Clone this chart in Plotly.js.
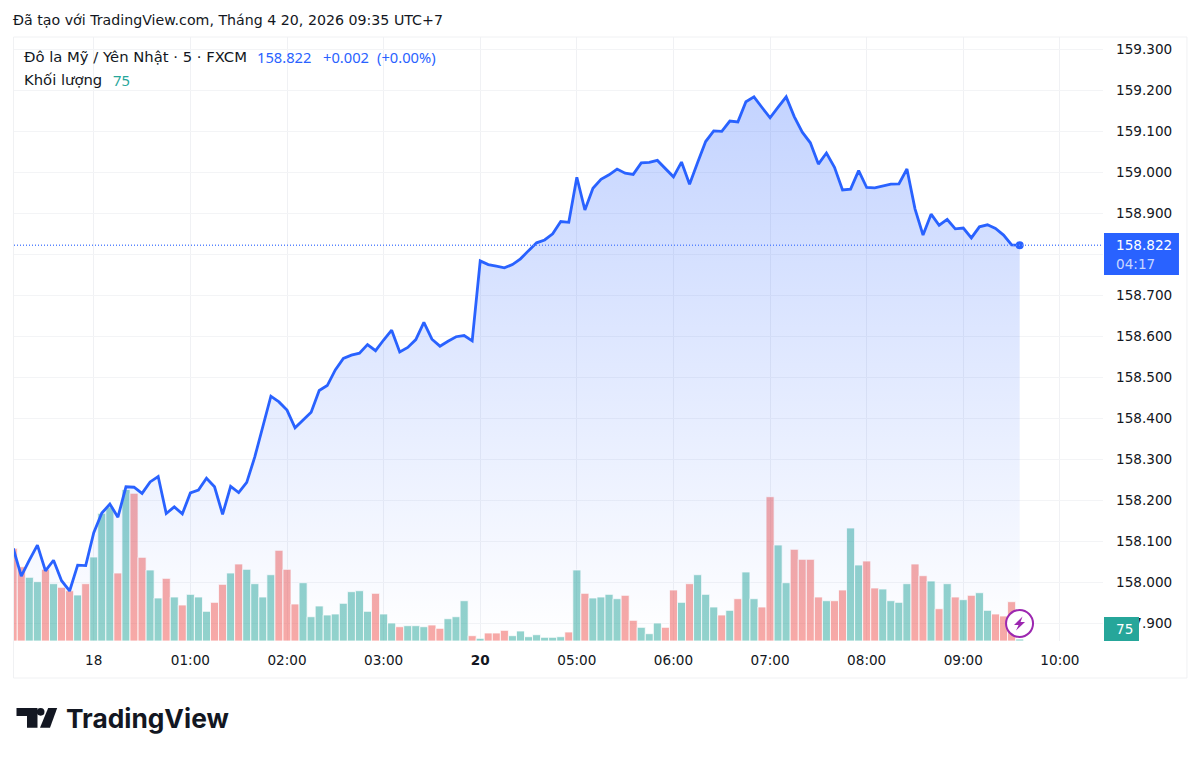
<!DOCTYPE html>
<html><head><meta charset="utf-8">
<script src="https://cdn.plot.ly/plotly-3.0.1.min.js"></script>
<style>html,body{margin:0;padding:0;background:#fff}#c{width:1200px;height:759px}</style>
</head><body><div id="c"></div>
<script>
const FONT = '"DejaVu Sans", sans-serif';
const NOTO = '"Noto Sans", sans-serif';
const FS = 13.6;
const prices = [158.083,158.015,158.054,158.091,158.028,158.054,158.004,157.979,158.042,158.041,
158.121,158.169,158.191,158.159,158.233,158.232,158.217,158.245,158.258,158.168,
158.184,158.167,158.218,158.225,158.254,158.233,158.166,158.234,158.219,158.244,
158.306,158.380,158.454,158.440,158.420,158.377,158.396,158.415,158.468,158.480,
158.518,158.546,158.554,158.559,158.580,158.565,158.591,158.615,158.562,158.573,
158.592,158.634,158.593,158.576,158.588,158.599,158.602,158.589,158.784,158.775,
158.771,158.767,158.775,158.789,158.809,158.828,158.835,158.850,158.880,158.878,
158.988,158.908,158.961,158.983,158.994,159.008,158.998,158.995,159.023,159.024,
159.029,159.010,158.989,159.025,158.971,159.024,159.075,159.101,159.100,159.125,
159.123,159.172,159.184,159.158,159.133,159.159,159.184,159.136,159.098,159.072,
159.020,159.047,159.012,158.957,158.959,159.004,158.963,158.962,158.967,158.971,
158.972,159.008,158.911,158.847,158.898,158.871,158.885,158.862,158.864,158.840,
158.867,158.872,158.863,158.847,158.823,158.822];
const volumes = [3476,2786,2389,2224,2689,2149,2014,1886,1725,2149,
3150,4789,5025,2550,5681,5539,3139,2663,1613,2351,
1650,1350,1751,1650,1114,1451,2126,2550,2888,2689,
2149,1650,2486,3401,2689,1388,2186,911,1313,975,
1013,1414,1849,1886,1114,1789,1013,675,536,574,
574,536,600,476,836,911,1511,199,101,300,
300,401,199,375,161,236,139,139,161,338,
2663,1789,1613,1650,1751,1586,1714,776,514,274,
675,514,1913,1451,2149,2486,1751,1275,975,1151,
1586,2588,1586,1275,5411,3600,2186,3439,3064,3064,
1650,1511,1511,1913,4238,2850,3000,1988,1950,1511,
1451,2149,2888,2449,2250,1211,2149,1650,1549,1714,
1811,1151,1013,938,1474,75];
const volumeUp = [0,0,1,1,0,1,0,0,1,0,
1,1,1,0,1,0,0,1,1,0,
1,0,1,1,1,0,0,1,0,1,
1,1,1,0,0,0,1,1,1,1,
1,1,1,1,1,0,1,1,0,1,
1,1,0,0,1,1,1,0,1,0,
0,0,1,1,1,1,1,1,1,0,
1,0,1,1,1,1,0,0,1,1,
1,0,0,1,0,1,1,1,0,1,
0,1,1,0,0,1,1,0,0,0,
0,1,0,0,1,1,0,0,1,1,
1,1,0,0,1,0,1,0,1,0,
1,1,0,0,0,1];
const timeTickPos = [10,22,34,46,58,70,82,94,106,118,130];
const timeTickLabels = ['18','01:00','02:00','03:00','<b>20</b>','05:00','06:00','07:00','08:00','09:00','10:00'];
const priceTicks = [157.9,158.0,158.1,158.2,158.3,158.4,158.5,158.6,158.7,158.8,158.9,159.0,159.1,159.2,159.3];
const lastPrice = 158.822, lastVolume = 75, countdown = '04:17';

const W=1200,H=759,L=13.5,R=1103,T=37,B=641;
const px=x=>(x-L)/(R-L), py=y=>(B-y)/(B-T);
const xs=prices.map((_,i)=>i);
const BLUE='#2962ff',TEAL='#26a69a',INK='#131722';

const traces=[
 {type:'bar',x:xs,y:volumes,yaxis:'y',width:1,hoverinfo:'skip',showlegend:false,
  marker:{color:volumeUp.map(u=>u?'rgba(38,166,154,0.5)':'rgba(239,83,80,0.5)'),line:{width:0.8,color:'#ffffff'}}},
 {type:'scatter',mode:'lines',x:xs,y:prices,yaxis:'y2',fill:'tozeroy',hoverinfo:'skip',showlegend:false,
  line:{color:BLUE,width:2.8,shape:'linear'},
  fillgradient:{type:'vertical',start:157.857,stop:159.2,
    colorscale:[[0,'rgba(41,98,255,0.0)'],[1,'rgba(41,98,255,0.28)']]}},
 {type:'scatter',mode:'markers',x:[xs[xs.length-1]],y:[lastPrice],yaxis:'y2',hoverinfo:'skip',showlegend:false,
  marker:{color:BLUE,size:8}}
];

const txt=(text,x,y,opt={})=>Object.assign({text,x:px(x),y:py(y),xref:'paper',yref:'paper',xanchor:'left',yanchor:'middle',
  showarrow:false,font:{family:FONT,size:FS,color:INK}},opt);

const annotations=[
 txt('Đã tạo với TradingView.com, Tháng 4 20, 2026 09:35 UTC+7',10,20,{font:{family:FONT,size:14.2,color:INK}}),
 txt('Đô la Mỹ / Yên Nhật · 5 · FXCM',21.5,57,{font:{family:FONT,size:14.8,color:INK}}),
 txt('158.822',255,57,{font:{family:NOTO,size:14.7,color:BLUE}}),
 txt('+0.002',321,57,{font:{family:NOTO,size:14.7,color:BLUE}}),
 txt('(+0.00%)',375,57,{font:{family:NOTO,size:14.7,color:BLUE}}),
 txt('Khối lượng',21.5,80,{font:{family:FONT,size:14.8,color:INK}}),
 txt(String(lastVolume),110.5,80,{font:{family:NOTO,size:14.7,color:TEAL}}),
 txt('158.822',1114.5,245,{font:{family:FONT,size:FS,color:'#fff'}}),
 txt(countdown,1114.5,264,{font:{family:FONT,size:FS,color:'rgba(255,255,255,0.75)'}}),
 txt(String(lastVolume),1114,629,{font:{family:FONT,size:FS,color:'#fff'}}),
 txt('<b>TradingView</b>',64,719,{font:{family:'Inter, "Noto Sans", sans-serif',size:26.3,color:'#131722'}})
];

const shapes=[
 {type:'rect',xref:'paper',yref:'paper',x0:px(13),x1:px(1187),y0:py(37),y1:py(678),line:{color:'#f0f1f3',width:1},layer:'below'},
 {type:'line',xref:'paper',yref:'y2',x0:0,x1:1,y0:lastPrice,y1:lastPrice,line:{color:'#5a86ff',width:1.4,dash:'1px,2px'}},
 {type:'rect',xref:'paper',yref:'paper',x0:px(1104),x1:px(1179),y0:py(233),y1:py(275),fillcolor:BLUE,line:{width:0},layer:'above'},
 {type:'rect',xref:'paper',yref:'paper',x0:px(1104),x1:px(1139),y0:py(617),y1:py(641),fillcolor:TEAL,line:{width:0},layer:'above'},
 {type:'circle',xref:'paper',yref:'paper',x0:px(1006),x1:px(1033),y0:py(610),y1:py(637),fillcolor:'#fff',line:{color:'#9c27b0',width:2},layer:'above'},
 {type:'path',xref:'paper',yref:'paper',fillcolor:'#9c27b0',line:{width:0},layer:'above',
  path:'M'+[[1022.5,616.5],[1014,625],[1018.5,625],[1016,630.5],[1025,622],[1020.5,622]].map(p=>px(p[0])+','+py(p[1])).join('L')+'Z'},
 {type:'path',xref:'paper',yref:'paper',fillcolor:'#131722',line:{width:0},
  path:'M'+[[16,708],[37,708],[37,727.7],[26.5,727.7],[26.5,716],[16,716]].map(p=>px(p[0])+','+py(p[1])).join('L')+'Z'},
 {type:'circle',xref:'paper',yref:'paper',x0:px(36.3),x1:px(44),y0:py(708),y1:py(715.7),fillcolor:'#131722',line:{width:0}},
 {type:'path',xref:'paper',yref:'paper',fillcolor:'#131722',line:{width:0},
  path:'M'+[[47.7,708],[56.7,708],[49.5,727.7],[39.5,727.7]].map(p=>px(p[0])+','+py(p[1])).join('L')+'Z'}
];

const layout={width:W,height:H,autosize:false,paper_bgcolor:'#fff',plot_bgcolor:'#fff',showlegend:false,
 margin:{l:L,r:W-R,t:T,b:H-B,pad:0},bargap:0,annotations,shapes,
 xaxis:{range:[0.093,135.35],tickmode:'array',tickvals:timeTickPos,ticktext:timeTickLabels,showgrid:true,gridcolor:'#f0f1f4',gridwidth:1,
   zeroline:false,showline:false,ticks:'',fixedrange:true,ticklabelstandoff:9,tickfont:{family:FONT,size:FS,color:INK},tickangle:0},
 yaxis:{range:[0,22650],visible:false,fixedrange:true,showgrid:false,zeroline:false},
 yaxis2:{overlaying:'y',side:'right',range:[157.857,159.33],tickmode:'array',tickvals:priceTicks,ticktext:priceTicks.map(v=>v.toFixed(3)),
   showgrid:true,gridcolor:'#f3f4f6',gridwidth:1,zeroline:false,showline:false,ticks:'',fixedrange:true,ticklabelstandoff:12,
   tickfont:{family:FONT,size:FS,color:INK}}
};
Plotly.newPlot('c',traces,layout,{displayModeBar:false,staticPlot:true});
</script></body></html>
